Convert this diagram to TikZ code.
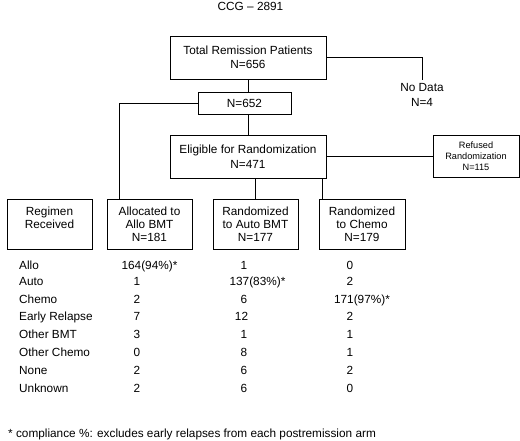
\documentclass[tikz,border=0pt]{standalone}
\usepackage{fontspec}
\setmainfont{Liberation Sans}

\begin{document}
\begin{tikzpicture}[x=1pt,y=-1pt,
	every node/.style={font=\fontsize{11.8}{14.5}\selectfont},
	box/.style={draw,line width=0.9pt,align=center,inner sep=0pt},
	armbox/.style={box,minimum width=85pt,minimum height=50pt,font=\fontsize{11.8}{13}\selectfont},
	cell/.style={inner sep=0pt,text height=8.5pt,text depth=0pt},
	link/.style={line width=0.9pt}]
		\useasboundingbox (0,0) rectangle (520,440);
		\node (title) at (250.5,6) {CCG – 2891};
		
		% flow boxes
		\node[box,minimum width=156pt,minimum height=43pt] (total) at (248,57.5) {Total Remission Patients\\N=656};
		\node[align=center] (nodata) at (422,95) {No Data\\N=4};
		\node[box,minimum width=93pt,minimum height=22pt] (n652) at (244.5,103) {N=652};
		\node[box,minimum width=156pt,minimum height=43pt] (elig) at (248,156.5) {Eligible for Randomization\\N=471};
		\node[box,minimum width=86pt,minimum height=42pt,font=\fontsize{9.2}{10.8}\selectfont] (refused) at (476,156) {Refused\\Randomization\\N=115};
		
		\node[armbox] (regimen) at (49.5,224) {Regimen\\Received\\~};
		\node[armbox] (allo) at (149.5,224) {Allocated to\\Allo BMT\\N=181};
		\node[armbox] (auto) at (255.5,224) {Randomized\\to Auto BMT\\N=177};
		\node[armbox,minimum width=86pt] (chemo) at (362,224) {Randomized\\to Chemo\\N=179};
		
		\draw[link] (total.south) -- (total.south |- n652.north);
		\draw[link] (total.east) -| (nodata.north);
		\draw[link] (elig.north |- n652.south) -- (elig.north);
		\draw[link] (n652.west) -| ([xshift=-30.5pt]allo.north);
		\draw[link] (elig.east) -- (elig.east -| refused.west);
		\draw[link] (auto.north |- elig.south) -- (auto.north);
		\draw[link] ([xshift=4pt]chemo.north west |- elig.south) -- ([xshift=4pt]chemo.north west);
		
		% regimen table
		\node[cell,anchor=west] (r1l) at (19,265) {Allo};
		\node[cell] (r1a) at (149.5,265) {164(94\%)*};
		\node[cell] (r1b) at (244,265) {1};
		\node[cell] (r1c) at (350,265) {0};
		
		\node[cell,anchor=west] (r2l) at (19,281.5) {Auto};
		\node[cell] (r2a) at (137,281.5) {1};
		\node[cell] (r2b) at (257.5,281.5) {137(83\%)*};
		\node[cell] (r2c) at (350,281.5) {2};
		
		\node[cell,anchor=west] (r3l) at (19,299) {Chemo};
		\node[cell] (r3a) at (137,299) {2};
		\node[cell] (r3b) at (244,299) {6};
		\node[cell] (r3c) at (362,299) {171(97\%)*};
		
		\node[cell,anchor=west] (r4l) at (19,316.5) {Early Relapse};
		\node[cell] (r4a) at (137,316.5) {7};
		\node[cell] (r4b) at (241.5,316.5) {12};
		\node[cell] (r4c) at (350,316.5) {2};
		
		\node[cell,anchor=west] (r5l) at (19,334) {Other BMT};
		\node[cell] (r5a) at (137,334) {3};
		\node[cell] (r5b) at (244,334) {1};
		\node[cell] (r5c) at (350,334) {1};
		
		\node[cell,anchor=west] (r6l) at (19,352) {Other Chemo};
		\node[cell] (r6a) at (137,352) {0};
		\node[cell] (r6b) at (244,352) {8};
		\node[cell] (r6c) at (350,352) {1};
		
		\node[cell,anchor=west] (r7l) at (19,370) {None};
		\node[cell] (r7a) at (137,370) {2};
		\node[cell] (r7b) at (244,370) {6};
		\node[cell] (r7c) at (350,370) {2};
		
		\node[cell,anchor=west] (r8l) at (19,388) {Unknown};
		\node[cell] (r8a) at (137,388) {2};
		\node[cell] (r8b) at (244,388) {6};
		\node[cell] (r8c) at (350,388) {0};
		
		\node[cell,anchor=west] (note) at (8,433) {* compliance \%: excludes early relapses from each postremission arm};
	\end{tikzpicture}
\end{document}
